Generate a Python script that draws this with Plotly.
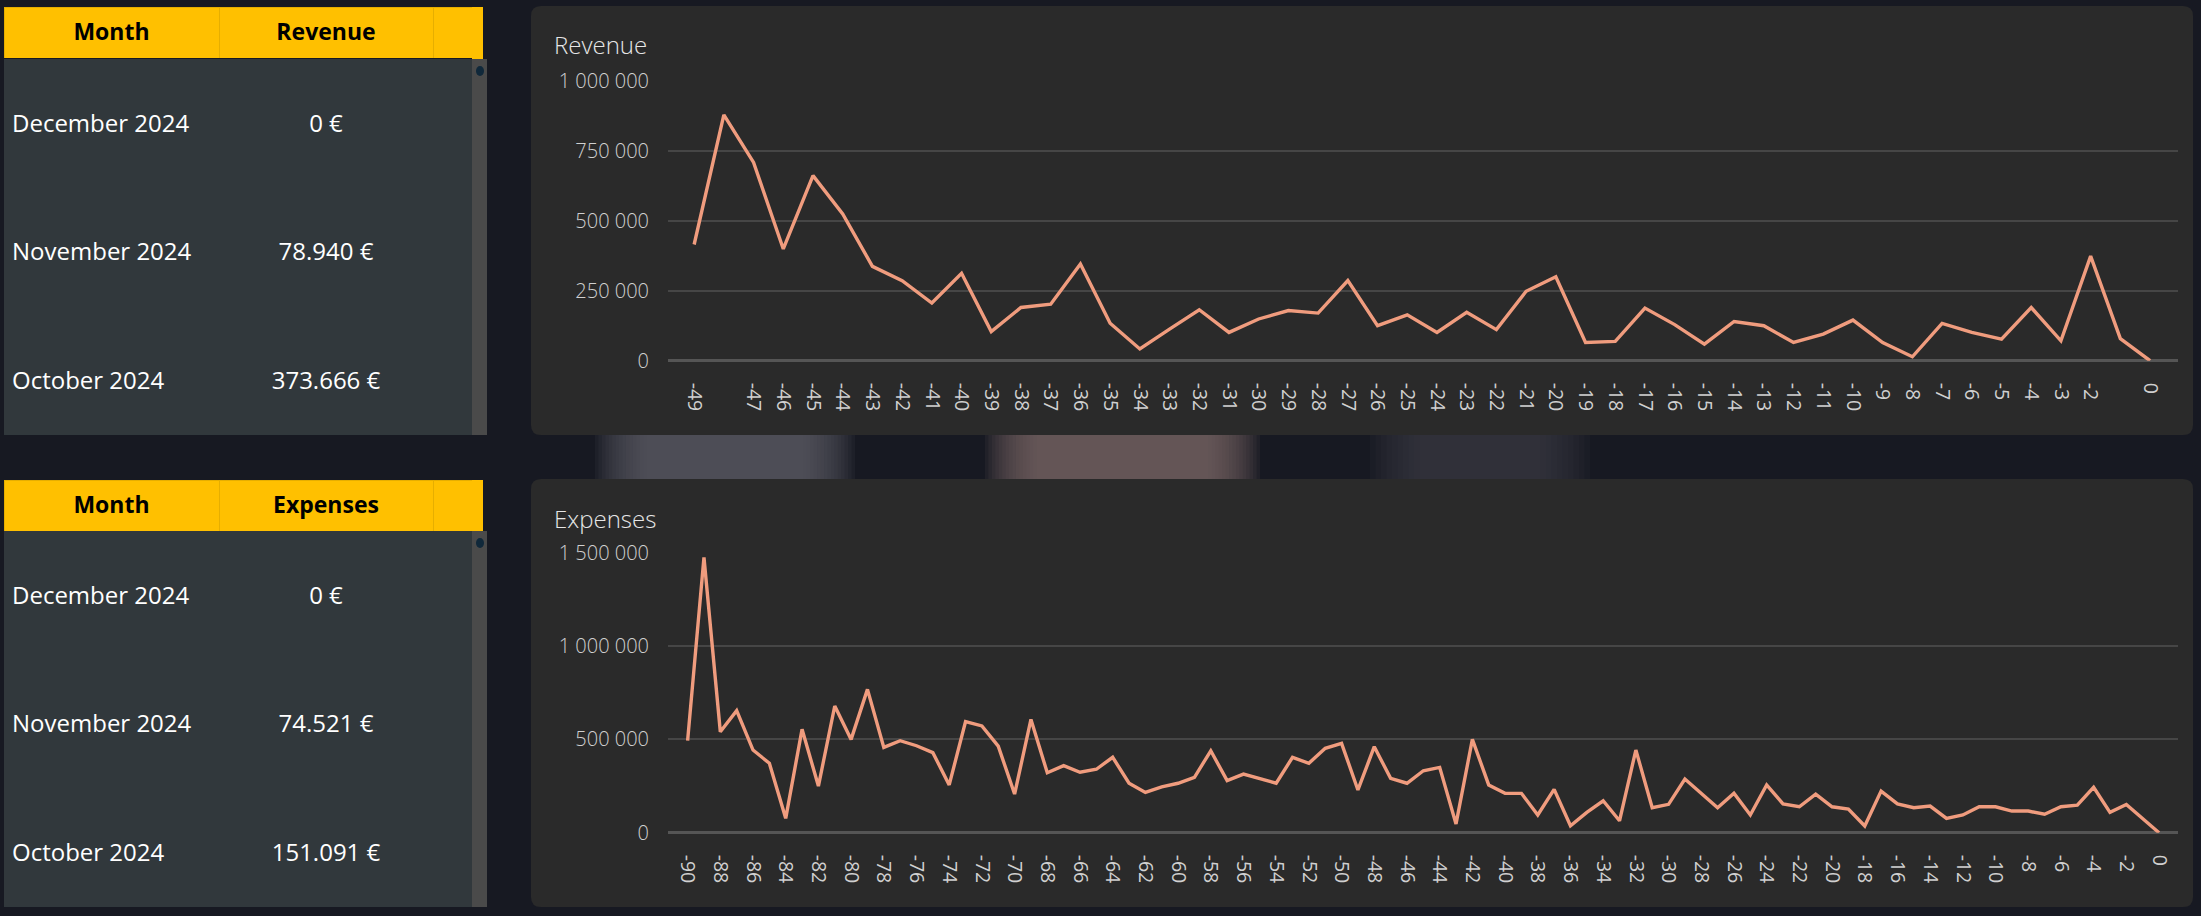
import plotly.graph_objects as go

# ---------------- data ----------------
rev_months = list(range(-49, 1))
revenue = [415000, 878000, 708000, 399000, 661000, 524000, 337000, 286000, 206000, 312000,
           104000, 190000, 202000, 345000, 134000, 42000, 113000, 182000, 101000, 149000,
           179000, 170000, 286000, 125000, 164000, 101000, 173000, 111000, 248000, 300000,
           65000, 69000, 188000, 129000, 59000, 140000, 125000, 65000, 95000, 145000,
           65000, 14000, 133000, 101000, 77000, 190000, 71000, 373666, 78940, 0]
rev_tick_vals = [-49] + list(range(-47, -1)) + [0]
rev_tick_text = [str(v) for v in rev_tick_vals]
rev_y_vals = [0, 250000, 500000, 750000]
rev_y_text = ["0", "250 000", "500 000", "750 000"]
rev_y_top = [1000000]
rev_y_top_text = ["1 000 000"]

exp_months = list(range(-90, 1))
expenses = [493000, 1475000, 541000, 654000, 443000, 372000, 77000, 554000, 250000, 679000,
            500000, 768000, 457000, 493000, 466000, 429000, 256000, 595000, 572000, 464000,
            207000, 607000, 321000, 359000, 324000, 340000, 404000, 265000, 216000, 246000,
            265000, 297000, 439000, 279000, 314000, 288000, 265000, 404000, 372000, 452000,
            479000, 229000, 461000, 291000, 265000, 332000, 350000, 47000, 500000, 256000,
            211000, 211000, 95000, 232000, 37000, 109000, 171000, 64000, 443000, 134000,
            152000, 288000, 211000, 134000, 211000, 95000, 256000, 154000, 139000, 207000,
            139000, 127000, 36000, 223000, 154000, 134000, 143000, 77000, 95000, 139000,
            139000, 116000, 116000, 99000, 139000, 148000, 243000, 109000, 151091, 74521, 0]
exp_tick_vals = list(range(-90, 1, 2))
exp_tick_text = [str(v) for v in exp_tick_vals]
exp_y_vals = [0, 500000, 1000000]
exp_y_text = ["0", "500 000", "1 000 000"]
exp_y_top = [1500000]
exp_y_top_text = ["1 500 000"]

table_months = ["December 2024", "November 2024", "October 2024"]


def eur(v):
    return f"{v:,}".replace(",", ".") + " €"


rev_table_vals = [eur(revenue[-1]), eur(revenue[-2]), eur(revenue[-3])]
exp_table_vals = [eur(expenses[-1]), eur(expenses[-2]), eur(expenses[-3])]

# ---------------- layout helpers ----------------
W, H = 2201, 916


def px(x):
    return x / W


def py(y):
    return 1 - y / H


FONT = "Open Sans, Segoe UI, sans-serif"
LINE = "#F09C7E"
PANEL = "#2a2a2a"
GRID = "#464646"
TICK = "#d0d0d0"
BODY = "#31383c"
GOLD = "#FFC000"
SPACER = 20  # blank header row of the body table


def rrect(x0, y0, x1, y1, r):
    X0, X1 = px(x0), px(x1)
    Y0, Y1 = py(y0), py(y1)
    rx, ry = r / W, r / H
    return (f"M {X0+rx} {Y0} L {X1-rx} {Y0} Q {X1} {Y0} {X1} {Y0-ry} "
            f"L {X1} {Y1+ry} Q {X1} {Y1} {X1-rx} {Y1} L {X0+rx} {Y1} "
            f"Q {X0} {Y1} {X0} {Y1+ry} L {X0} {Y0-ry} Q {X0} {Y0} {X0+rx} {Y0} Z")


fig = go.Figure()

# line charts
fig.add_trace(go.Scatter(x=rev_months, y=revenue, mode="lines",
                         line=dict(color=LINE, width=3.4), xaxis="x", yaxis="y",
                         showlegend=False, hoverinfo="skip"))
fig.add_trace(go.Scatter(x=rev_months, y=revenue, mode="lines", opacity=0,
                         line=dict(width=0), xaxis="x", yaxis="y3",
                         showlegend=False, hoverinfo="skip"))
fig.add_trace(go.Scatter(x=exp_months, y=expenses, mode="lines",
                         line=dict(color=LINE, width=3.4), xaxis="x2", yaxis="y2",
                         showlegend=False, hoverinfo="skip"))
fig.add_trace(go.Scatter(x=exp_months, y=expenses, mode="lines", opacity=0,
                         line=dict(width=0), xaxis="x2", yaxis="y4",
                         showlegend=False, hoverinfo="skip"))

COLW = [215, 214, 39]


# tables: header row + body rows (body starts lower so text sits mid-row)
def add_table(top, hbot, text_top, bottom, title, vals, row_h):
    fig.add_trace(go.Table(
        domain=dict(x=[px(4), px(472)], y=[py(hbot), py(top)]),
        columnwidth=COLW,
        header=dict(values=["<b>Month</b>", f"<b>{title}</b>", ""],
                    fill_color=GOLD, line=dict(color="#E6AE00", width=1),
                    font=dict(family=FONT, size=23, color="#000000"),
                    align="center", height=hbot - top),
    ))
    fig.add_trace(go.Table(
        domain=dict(x=[px(4), px(472)], y=[py(bottom), py(text_top - SPACER)]),
        columnwidth=COLW,
        header=dict(values=["", "", ""], height=SPACER, fill_color=BODY,
                    line=dict(color=BODY, width=1),
                    font=dict(family=FONT, size=6, color=BODY)),
        cells=dict(values=[table_months, vals, ["", "", ""]],
                   fill_color=BODY, line=dict(color=BODY, width=1),
                   font=dict(family=FONT, size=24, color="#ffffff"),
                   align=["left", "center", "center"], height=row_h),
    ))


add_table(7, 59, 105.5, 435, "Revenue", rev_table_vals, 128.5)
add_table(480, 531, 577.5, 907, "Expenses", exp_table_vals, 128.5)

shapes = []


def blur_patch(x0, x1, y0, y1, color, steps=16, spread=55, op=0.11):
    for i in range(steps):
        d = spread * (1 - i / steps)
        shapes.append(dict(type="rect", xref="paper", yref="paper", layer="below",
                           x0=px(x0 - d), x1=px(x1 + d), y0=py(y1), y1=py(y0),
                           fillcolor=color, opacity=op, line=dict(width=0)))


# background blurred patches (between the panels)
blur_patch(650, 800, 435, 479, "#5e5e68")
blur_patch(1040, 1205, 435, 479, "#726666")
blur_patch(1425, 1535, 435, 479, "#3c3e48", steps=10)
# table body backgrounds, panels
for (t, b) in [(59, 435), (531, 907)]:
    shapes.append(dict(type="rect", xref="paper", yref="paper", layer="below",
                       x0=px(4), x1=px(472), y0=py(b), y1=py(t),
                       fillcolor=BODY, line=dict(width=0)))
for (t, b) in [(6, 435), (479, 907)]:
    shapes.append(dict(type="path", xref="paper", yref="paper", layer="below",
                       path=rrect(531, t, 2193, b, 10), fillcolor=PANEL,
                       line=dict(width=0)))
# table header extension + scroll tracks
for (t, hb, b) in [(7, 59, 435), (480, 531, 907)]:
    shapes.append(dict(type="rect", xref="paper", yref="paper",
                       x0=px(472), x1=px(483), y0=py(hb), y1=py(t),
                       fillcolor=GOLD, line=dict(width=0)))
    shapes.append(dict(type="rect", xref="paper", yref="paper",
                       x0=px(472), x1=px(487), y0=py(b), y1=py(hb),
                       fillcolor="#4a4a4a", line=dict(width=0)))
    shapes.append(dict(type="circle", xref="paper", yref="paper",
                       x0=px(476), x1=px(484), y0=py(hb + 17), y1=py(hb + 7),
                       fillcolor="#10283a", line=dict(width=0)))

annotations = [
    dict(text="Revenue", x=px(552), y=py(45), xref="paper", yref="paper",
         xanchor="left", yanchor="middle", showarrow=False,
         font=dict(family=FONT, size=24, color="#e6e6e6", weight=300)),
    dict(text="Expenses", x=px(552), y=py(518), xref="paper", yref="paper",
         xanchor="left", yanchor="middle", showarrow=False,
         font=dict(family=FONT, size=24, color="#e6e6e6", weight=300)),
]

xcommon = dict(showgrid=False, zeroline=False, showline=False, tickangle=90,
               tickfont=dict(family=FONT, size=19.5, color=TICK), ticks="",
               tickmode="array", ticklabelstandoff=21, fixedrange=True,
               automargin=False)
ycommon = dict(showline=False, ticks="", tickmode="array",
               tickfont=dict(family=FONT, size=20, color=TICK, weight=300),
               ticklabelstandoff=18, fixedrange=True, automargin=False)

fig.update_layout(
    template="none",
    width=W, height=H, margin=dict(l=0, r=0, t=0, b=0, pad=0, autoexpand=False),
    paper_bgcolor="#171922", plot_bgcolor="rgba(0,0,0,0)",
    showlegend=False, shapes=shapes, annotations=annotations,
    xaxis=dict(domain=[px(668), px(2178)], range=[-49.88, 0.94], anchor="y",
               tickvals=rev_tick_vals, ticktext=rev_tick_text, **xcommon),
    yaxis=dict(domain=[py(360.7), py(80.7)], range=[0, 1000000], anchor="x",
               tickvals=rev_y_vals, ticktext=rev_y_text, showgrid=True,
               gridcolor=GRID, gridwidth=2, zeroline=True,
               zerolinecolor="#555555", zerolinewidth=3, **ycommon),
    yaxis3=dict(overlaying="y", anchor="x", side="left", range=[0, 1000000],
                tickvals=rev_y_top, ticktext=rev_y_top_text, showgrid=False,
                zeroline=False, **ycommon),
    xaxis2=dict(domain=[px(668), px(2178)], range=[-91.2, 1.16], anchor="y2",
                tickvals=exp_tick_vals, ticktext=exp_tick_text, **xcommon),
    yaxis2=dict(domain=[py(832.7), py(552.8)], range=[0, 1500000], anchor="x2",
                tickvals=exp_y_vals, ticktext=exp_y_text, showgrid=True,
                gridcolor=GRID, gridwidth=2, zeroline=True,
                zerolinecolor="#555555", zerolinewidth=3, **ycommon),
    yaxis4=dict(overlaying="y2", anchor="x2", side="left", range=[0, 1500000],
                tickvals=exp_y_top, ticktext=exp_y_top_text, showgrid=False,
                zeroline=False, **ycommon),
)

fig.write_html("out.html", config={"displayModeBar": False, "staticPlot": True},
               post_script="document.body.style.margin='0';document.body.style.overflow='hidden';")
